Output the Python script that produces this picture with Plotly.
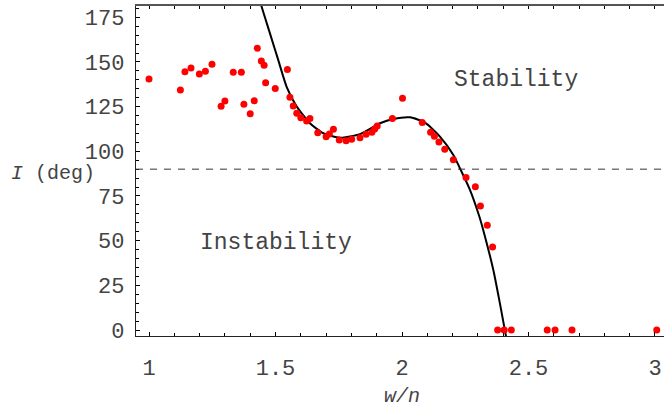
import plotly.graph_objects as go

# Observed data points (w/n, inclination in degrees)
wn = [1.000, 1.124, 1.142, 1.166, 1.199, 1.223, 1.249, 1.285, 1.300, 1.333,
      1.365, 1.375, 1.400, 1.416, 1.428, 1.444, 1.455, 1.461, 1.499, 1.547,
      1.557, 1.570, 1.584, 1.600, 1.623, 1.636, 1.667, 1.700, 1.713, 1.729,
      1.752, 1.779, 1.801, 1.834, 1.858, 1.881, 1.892, 1.902, 1.962, 2.002,
      2.080, 2.113, 2.128, 2.146, 2.169, 2.203, 2.253, 2.290, 2.310, 2.337,
      2.358, 2.378, 2.404, 2.432, 2.574, 2.605, 2.672, 3.007]
incl = [140.5, 134.3, 144.5, 146.6, 143.3, 144.8, 148.7, 125.2, 128.1, 144.2,
        144.2, 126.3, 121.0, 128.3, 157.6, 150.5, 148.1, 138.4, 135.2, 145.8,
        130.2, 125.3, 121.3, 118.8, 117.0, 118.4, 110.4, 108.2, 109.7, 112.3,
        106.3, 105.9, 106.7, 107.6, 109.5, 110.6, 112.5, 114.2, 118.4, 129.7,
        116.1, 110.6, 108.4, 105.2, 101.2, 95.2, 85.3, 80.2, 69.4, 58.6,
        46.4, 0, 0, 0, 0, 0, 0, 0]

# Fitted curve
curve_x = [1.430, 1.445, 1.478, 1.511, 1.544, 1.584, 1.636, 1.689, 1.755,
           1.834, 1.913, 1.966, 2.032, 2.091, 2.150, 2.203, 2.229, 2.269,
           2.306, 2.321, 2.361, 2.387, 2.411]
curve_y = [189, 181, 166, 151, 136.1, 125, 115.7, 110.1, 107.6,
           109.6, 115.7, 118.1, 119, 116, 108.2, 97.9, 90.5, 78.3,
           63.4, 56, 33.6, 14.9, -3.4]

boundary = 90
x_ticks = [1, 1.5, 2, 2.5, 3]
x_ticktext = ["1", "1.5", "2", "2.5", "3"]
y_ticks = [0, 25, 50, 75, 100, 125, 150, 175]

XR = [0.9486, 3.0356]
YR = [-3.36, 181.3]
MONO = "Liberation Mono, Courier New, monospace"
TXT = "#444444"

fig = go.Figure()
fig.add_trace(go.Scatter(x=curve_x, y=curve_y, mode="lines",
                         line=dict(color="black", width=2, shape="spline", smoothing=0.6),
                         showlegend=False, hoverinfo="skip"))
fig.add_trace(go.Scatter(x=wn, y=incl, mode="markers",
                         marker=dict(color="#ff0000", size=7, line=dict(width=0)),
                         showlegend=False, cliponaxis=False))
# invisible trace to activate top axis
fig.add_trace(go.Scatter(x=[None], y=[None], xaxis="x2", showlegend=False, hoverinfo="skip"))

fig.add_hline(y=boundary, line=dict(color="#333333", width=1, dash="7px,7px"))

tickfont = dict(family=MONO, size=22, color=TXT)
fig.update_layout(
    width=664, height=407,
    margin=dict(l=136, r=0, t=6, b=71),
    paper_bgcolor="white", plot_bgcolor="white",
    xaxis=dict(range=XR, tickmode="array", tickvals=x_ticks, ticktext=x_ticktext,
               ticks="inside", ticklen=4, tickwidth=1, tickcolor="black",
               minor=dict(dtick=0.1, tick0=1, ticks="inside", ticklen=2.5, tickcolor="black"),
               showline=True, linecolor="#222222", linewidth=1.3,
               showgrid=False, zeroline=False, tickfont=tickfont,
               ticklabelstandoff=11, automargin=False),
    xaxis2=dict(range=XR, overlaying="x", side="top", anchor="y",
                ticks="inside", ticklen=2.5, tickcolor="black", dtick=0.1, tick0=1,
                showticklabels=False, showline=True, linecolor="#555555", linewidth=2,
                showgrid=False, zeroline=False, automargin=False),
    yaxis=dict(range=YR, tickmode="array", tickvals=y_ticks,
               ticks="inside", ticklen=4, tickwidth=1, tickcolor="black",
               minor=dict(dtick=5, tick0=0, ticks="inside", ticklen=2.5, tickcolor="black"),
               showline=True, linecolor="#222222", linewidth=1.3,
               showgrid=False, zeroline=False, tickfont=tickfont,
               ticklabelstandoff=6, automargin=False),
)

ann_font = dict(family=MONO, size=23, color=TXT)
fig.add_annotation(x=2.45, y=140, text="Stability", showarrow=False, font=ann_font,
                   xanchor="center", yanchor="middle")
fig.add_annotation(x=1.502, y=48.5, text="Instability", showarrow=False, font=ann_font,
                   xanchor="center", yanchor="middle")
fig.add_annotation(xref="paper", yref="paper", x=(53 - 136) / 528, y=(336 - 173) / 330,
                   text="<i>I</i> (deg)", showarrow=False,
                   font=dict(family=MONO, size=20, color=TXT),
                   xanchor="center", yanchor="middle")
fig.add_annotation(xref="paper", yref="paper", x=(402 - 136) / 528, y=(336 - 396) / 330,
                   text="<i>w/n</i>", showarrow=False,
                   font=dict(family=MONO, size=20, color=TXT),
                   xanchor="center", yanchor="middle")

fig.write_html("out.html", config={"displayModeBar": False},
               post_script="document.body.style.margin='0';document.body.style.padding='0';")
